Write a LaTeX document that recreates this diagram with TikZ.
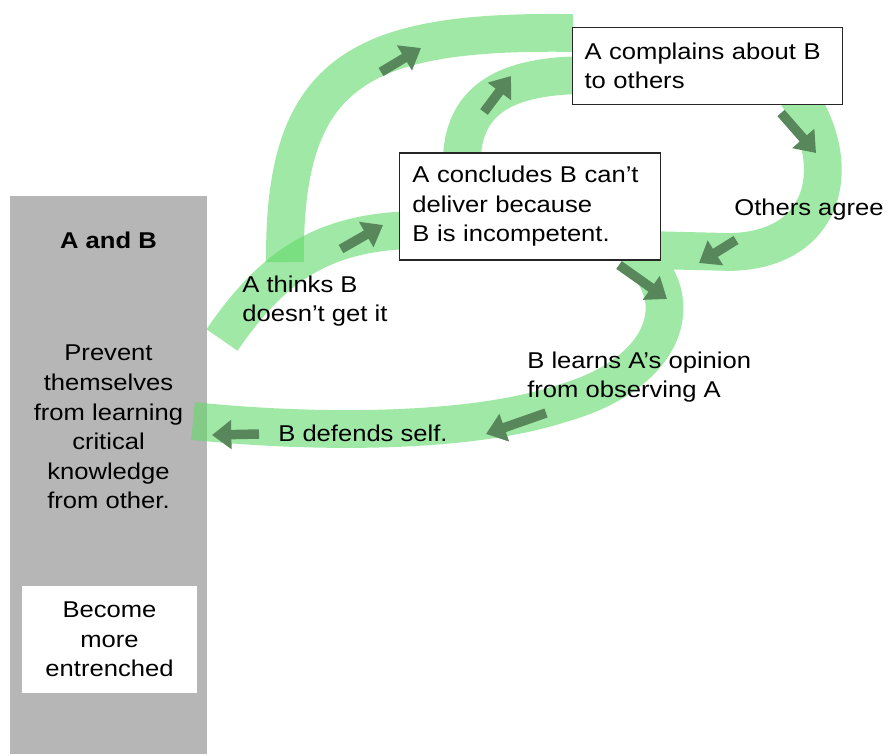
\documentclass[tikz,border=0pt]{standalone}
\usepackage{fontspec}
\setmainfont{Liberation Sans}[FakeStretch=1.12]
\usetikzlibrary{arrows.meta}
\definecolor{bandgreen}{RGB}{97,217,105}
\definecolor{arrowgreen}{RGB}{88,135,92}
\definecolor{boxgray}{RGB}{182,182,182}

\begin{document}
\begin{tikzpicture}[x=0.02cm, y=-0.02cm,
    every node/.style={font=\fontsize{13}{16.8}\selectfont},
    band/.style={draw=bandgreen, draw opacity=0.6, line width=21.5pt},
    flow/.style={draw=arrowgreen, line width=5.4pt, -{Triangle[width=16pt,length=11pt]}},
    textbox/.style={draw=black!85, line width=0.8pt, fill=white, align=left}]
            \useasboundingbox (0,0) rectangle (888,755);

            % Caja gris
            \node[fill=boxgray, minimum width=111.7pt, minimum height=317.5pt, inner sep=0] (pair) at (108.5,475) {};

            % Puntos de las bandas
            \coordinate (thinksA) at (222,340);
            \coordinate (thinksB) at (420,230);
            \coordinate (outerA) at (285,262);
            \coordinate (outerB) at (573,33);
            \coordinate (innerA) at (462,170);
            \coordinate (innerB) at (590,75);
            \coordinate (agreeA) at (795,92);
            \coordinate (agreeB) at (650,250);
            \coordinate (learnA) at (630,250);
            \coordinate (learnB) at (560,404);
            \coordinate (defendB) at (193,421);

            % Bandas
            \draw[band] (thinksA) .. controls (270,270) and (320,230) .. (thinksB);
            \draw[band] (outerA) .. controls (283,70) and (360,30) .. (outerB);
            \draw[band] (innerA) .. controls (458,90) and (520,75) .. (innerB);
            \draw[band] (agreeA) .. controls (845,160) and (830,250) .. (730,252) -- (agreeB)
                        (learnA) .. controls (690,290) and (675,372) .. (learnB)
                        .. controls (470,433) and (320,434) .. (defendB);

            % Nodos
            \node[font=\bfseries\fontsize{13}{16.8}\selectfont] (ab) at (108.5,240) {A and B};
            \node[align=center] (prevent) at (108.5,427) {Prevent\\themselves\\from learning\\critical\\knowledge\\from other.};
            \node[fill=white, minimum width=99.2pt, minimum height=60.7pt, align=center] (entr) at (109.5,639.5) {Become\\more\\entrenched};
            \node[textbox, text width=140pt, inner xsep=6.85pt, minimum height=43.7pt] (compl) at (707.5,66) {A complains about B\\to others};
            \node[textbox, text width=133.8pt, inner xsep=7.4pt, minimum height=60.7pt] (concl) at (530,206.5) {A concludes B can't\\deliver because\\B is incompetent.};
            \node (agree) at (809,210) {Others agree};
            \node[anchor=west, align=left, inner sep=0] (thinks) at (242,301) {A thinks B\\doesn't get it};
            \node[anchor=west, align=left, inner sep=0] (learns) at (527,377) {B learns A's opinion\\from observing A};
            \node[anchor=west, inner sep=0] (defends) at (278,433) {B defends self.};

            % Flechas
            \draw[flow] (381,72) -- (421,48);
            \draw[flow] (484,112) -- (511,76);
            \draw[flow] (341,249) -- (383,225);
            \draw[flow] (781,113) -- (816,153);
            \draw[flow] (736,240) -- (699,263);
            \draw[flow] (619,265) -- (667,299);
            \draw[flow] (546,413) -- (486,434);
            \draw[flow] (259,434) -- (212,435);
          \end{tikzpicture}
\end{document}
